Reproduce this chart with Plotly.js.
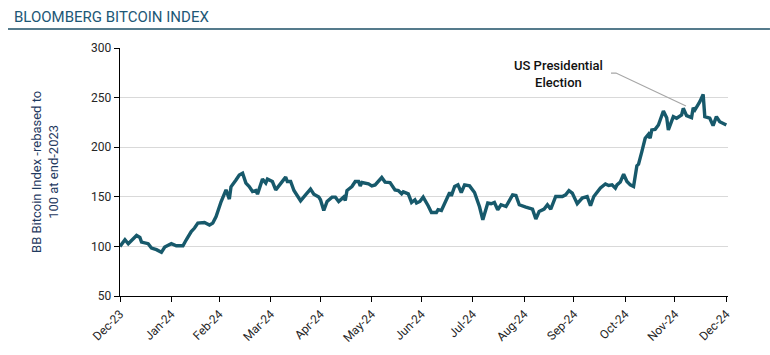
<!DOCTYPE html>
<html>
<head>
<meta charset="utf-8">
<script src="https://cdn.plot.ly/plotly-3.0.1.min.js"></script>
<style>html,body{margin:0;padding:0;background:#fff;}#chart{width:770px;height:355px;}</style>
</head>
<body>
<div id="chart"></div>
<script>
// ---- data ----
const dates = [
 "2023-12-31","2024-01-03","2024-01-05","2024-01-07","2024-01-10","2024-01-12","2024-01-13","2024-01-17","2024-01-19","2024-01-22",
 "2024-01-25","2024-01-27","2024-01-31","2024-02-03","2024-02-07","2024-02-09","2024-02-12","2024-02-14","2024-02-16","2024-02-20",
 "2024-02-23","2024-02-25","2024-02-27","2024-03-01","2024-03-04","2024-03-06","2024-03-07","2024-03-10","2024-03-12","2024-03-14",
 "2024-03-16","2024-03-18","2024-03-20","2024-03-22","2024-03-23","2024-03-26","2024-03-28","2024-03-29","2024-04-01","2024-04-03",
 "2024-04-06","2024-04-09","2024-04-10","2024-04-12","2024-04-14","2024-04-18","2024-04-21","2024-04-24","2024-04-26","2024-04-29",
 "2024-04-30","2024-05-02","2024-05-04","2024-05-07","2024-05-09","2024-05-11","2024-05-14","2024-05-15","2024-05-16","2024-05-19",
 "2024-05-21","2024-05-23","2024-05-24","2024-05-25","2024-05-29","2024-05-31","2024-06-02","2024-06-06","2024-06-08","2024-06-11",
 "2024-06-14","2024-06-16","2024-06-18","2024-06-19","2024-06-22","2024-06-24","2024-06-26","2024-06-27","2024-06-29","2024-07-01",
 "2024-07-04","2024-07-06","2024-07-09","2024-07-10","2024-07-12","2024-07-15","2024-07-17","2024-07-18","2024-07-20","2024-07-22",
 "2024-07-24","2024-07-26","2024-07-29","2024-08-01","2024-08-04","2024-08-06","2024-08-07","2024-08-09","2024-08-11","2024-08-13",
 "2024-08-15","2024-08-17","2024-08-20","2024-08-22","2024-08-24","2024-08-26","2024-08-28","2024-09-01","2024-09-05","2024-09-07",
 "2024-09-09","2024-09-12","2024-09-14","2024-09-16","2024-09-19","2024-09-23","2024-09-25","2024-09-27","2024-09-29","2024-10-02",
 "2024-10-05","2024-10-08","2024-10-10","2024-10-12","2024-10-16","2024-10-19","2024-10-21","2024-10-23","2024-10-25","2024-10-26",
 "2024-10-28","2024-10-30","2024-11-01","2024-11-03","2024-11-05","2024-11-07","2024-11-08","2024-11-10","2024-11-12","2024-11-14",
 "2024-11-15","2024-11-16","2024-11-18","2024-11-20","2024-11-23","2024-11-25","2024-11-26","2024-11-29","2024-12-01","2024-12-04",
 "2024-12-05","2024-12-07","2024-12-10","2024-12-11","2024-12-12","2024-12-15","2024-12-17","2024-12-18","2024-12-21","2024-12-23",
 "2024-12-25","2024-12-27","2024-12-29","2024-12-31"
];
const indexValues = [
 100,106.7,102.7,106,111,109,104.4,102.7,98.4,96.7,
 94,99.4,102.7,100.7,100.7,106.7,115,118.5,123.5,124,
 121.5,123.5,130,145,157,147.7,160,167,172,173.8,
 163.8,160.4,155.3,156.3,152.7,167.8,163.8,167.8,165.4,157,
 163.8,169.8,165.4,165.4,156.3,146,152,157.7,152.7,149.7,
 147,136.2,145.3,149.7,149.7,145.3,149.7,146.3,156.3,160.4,
 165.4,165.4,161,164.4,163,161,162,169.4,164.8,164.4,
 157,156.3,153,155,153,144.3,147,143.7,145.3,149.7,
 141,134.2,134.2,137,136.2,146.3,154.3,151,160.4,162,
 154.3,162,161,154.3,140,126.8,131.9,143.7,143,144.3,
 137,142,140.2,147,152,151.3,142,139.6,137.6,127.6,
 135.2,137.6,142,137.6,150.3,150.3,152,156.3,153.7,143,
 148.7,150.3,141,150.3,159,163,161.4,162,158.7,162,
 165,172.8,165.4,162,160.4,181.2,182.9,195.6,209,213,
 209,217.4,218,222.4,236.5,229.8,217.4,230.8,229.2,232.5,
 239.2,231.8,229.8,239.8,237.5,245.9,253.3,230.8,229.2,221.7,
 230.8,225.7,224,222.4
];
const tickDates = ["2023-12-31","2024-01-31","2024-02-29","2024-03-31","2024-04-30","2024-05-31","2024-06-30","2024-07-31","2024-08-31","2024-09-30","2024-10-31","2024-11-30","2024-12-31"];
const tickLabels = ["Dec-23","Jan-24","Feb-24","Mar-24","Apr-24","May-24","Jun-24","Jul-24","Aug-24","Sep-24","Oct-24","Nov-24","Dec-24"];
const yTicks = [50,100,150,200,250,300];

// ---- chart ----
const trace = {
  x: dates, y: indexValues, type: 'scatter', mode: 'lines',
  line: {color: '#17596b', width: 3.4, shape: 'linear'},
  hoverinfo: 'x+y'
};
const fam = 'Liberation Sans Narrow, Roboto, Arial, sans-serif';
const axisFont = {family: fam, size: 12, color: '#262626'};
const layout = {
  width: 770, height: 355,
  margin: {l: 120, r: 42, t: 48, b: 59},
  paper_bgcolor: '#ffffff', plot_bgcolor: '#ffffff',
  showlegend: false,
  font: axisFont,
  xaxis: {
    type: 'date', range: ['2023-12-31', '2025-01-01'],
    tickmode: 'array', tickvals: tickDates, ticktext: tickLabels,
    tickangle: -45, ticks: 'outside', ticklen: 5, tickcolor: '#000', tickwidth: 1,
    showline: true, linecolor: '#000', linewidth: 1.3, showgrid: false, zeroline: false,
    tickfont: axisFont, automargin: false
  },
  yaxis: {
    range: [50, 300], tickmode: 'array', tickvals: yTicks,
    ticks: 'outside', ticklen: 5, tickcolor: '#000', tickwidth: 1,
    showline: true, linecolor: '#000', linewidth: 1.3,
    showgrid: true, gridcolor: '#d9d9d9', gridwidth: 1, zeroline: false,
    tickfont: axisFont, automargin: false
  },
  annotations: [
    {xref: 'paper', yref: 'paper', x: -0.1776, y: 1.125, xanchor: 'left', yanchor: 'middle',
     text: 'BLOOMBERG BITCOIN INDEX', showarrow: false,
     font: {family: fam, size: 15, color: '#1d5876'}},
    {xref: 'paper', yref: 'paper', x: -0.1234, y: 0.5, xanchor: 'center', yanchor: 'middle',
     textangle: -90, text: 'BB Bitcoin Index -rebased to<br>100 at end-2023', showarrow: false,
     font: {family: fam, size: 13, color: '#1f3a5f'}},
    {xref: 'paper', yref: 'paper', x: 0.7204, y: 0.895, xanchor: 'center', yanchor: 'middle',
     text: 'US Presidential<br>Election', showarrow: false,
     font: {family: fam, size: 13, color: '#111', weight: 500}}
  ],
  shapes: [
    {type: 'line', xref: 'paper', yref: 'paper', x0: -0.1842, x1: 1.069, y0: 1.0766, y1: 1.0766,
     line: {color: '#1d4f66', width: 1.5}},
    {type: 'path', xref: 'paper', yref: 'paper', path: 'M 0.8076 0.899 L 0.8158 0.899 L 0.9309 0.766',
     line: {color: '#a6a6a6', width: 1.2}}
  ]
};
Plotly.newPlot('chart', [trace], layout, {displayModeBar: false, staticPlot: true});
</script>
</body>
</html>
